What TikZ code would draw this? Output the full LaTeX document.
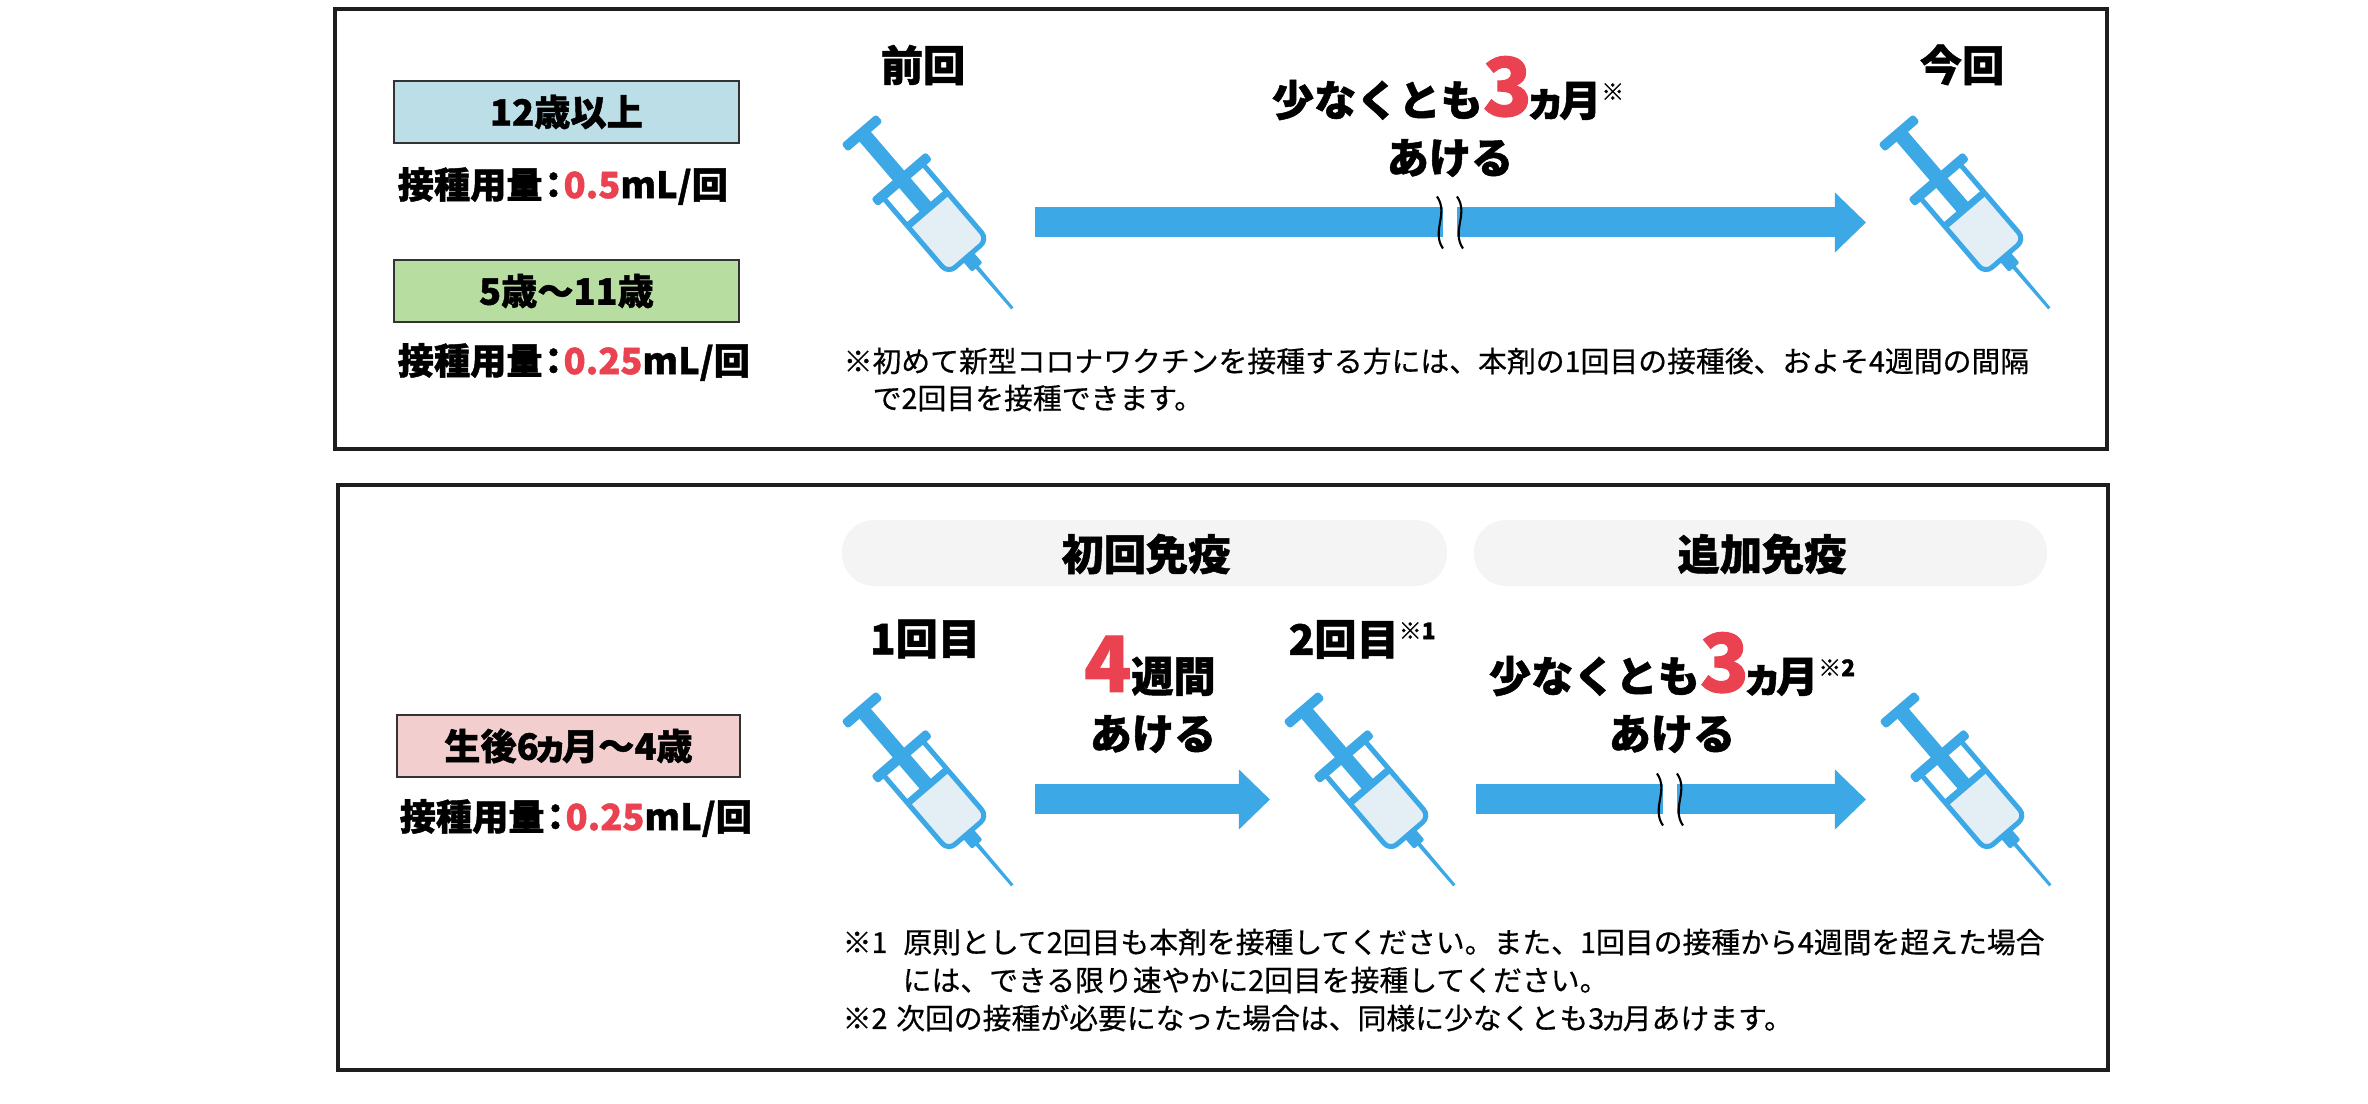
\documentclass[tikz,border=0pt]{standalone}
\usepackage{fontspec}
\newfontfamily\jp{Noto Sans CJK JP}[FakeBold=0.5, BoldFeatures={FakeBold=1.2}]
\usetikzlibrary{arrows.meta}
\definecolor{ablue}{RGB}{60,168,230}
\definecolor{liq}{RGB}{228,239,245}
\definecolor{rd}{RGB}{234,66,80}
\definecolor{lblue}{RGB}{188,222,230}
\definecolor{lgreen}{RGB}{184,221,161}
\definecolor{lpink}{RGB}{243,206,206}
\definecolor{pillc}{RGB}{244,244,244}
\definecolor{frame}{RGB}{30,30,30}
\newcommand\ka{\kern-0.18em ヵ\kern-0.18em}
\newcommand\cl{\kern-0.2em ：\kern-0.22em}
\tikzset{
 hd/.style={font=\jp\bfseries\fontsize{12}{14}\selectfont, inner sep=0pt},
 lab/.style={font=\jp\bfseries\fontsize{10.3}{12}\selectfont, inner sep=0pt},
 labbox/.style={lab, draw=black!80, line width=0.7pt, minimum width=3.45cm, minimum height=0.62cm},
 note/.style={font=\jp\fontsize{8.2}{10}\selectfont, inner sep=0pt, anchor=base west},
 frm/.style={draw=frame, line width=0.9pt},
 barrow/.style={draw=ablue, line width=0.3cm, -{Triangle[length=0.31cm,width=0.58cm]}},
 brk/.style={draw=black, line width=0.6pt},
 pill/.style={fill=pillc, rounded corners=0.32cm},
}
\newcommand\syr[2]{%
 \coordinate (#1) at #2;
 \begin{scope}[shift={(#1)},rotate=-49.4]
  \fill[liq] (102,-26) [rounded corners=0.09cm] -- (162.5,-26) -- (162.5,26) [sharp corners] -- (102,26) -- cycle;
  \draw[draw=ablue, line width=1.42pt] (63.5,-26) [rounded corners=0.09cm] -- (162.5,-26) -- (162.5,26) [sharp corners] -- (63.5,26);
  \fill[ablue] (0,-7.5) rectangle (100,7.5);
  \fill[ablue] (97,-26) rectangle (104,26);
  \fill[ablue, rounded corners=0.03cm] (-5,-23) rectangle (5,23);
  \fill[ablue, rounded corners=0.03cm] (56,-36) rectangle (66,36);
  \fill[ablue, rounded corners=0.02cm] (161,-7) rectangle (177,7);
  \fill[ablue] (175,-2) -- (231,-1.5) -- (231,1.5) -- (175,2) -- cycle;
 \end{scope}}
\newcommand\brkmark[3]{% x1 x2 yc
  \fill[white] ({#1+3},{#3-17}) rectangle ({#2-3},{#3+17});
  \draw[brk] ({#1-3},{#3-26}) .. controls ({#1+9},{#3-9}) and ({#1-9},{#3+9}) .. ({#1+3},{#3+26});
  \draw[brk] ({#2-3},{#3-26}) .. controls ({#2+9},{#3-9}) and ({#2-9},{#3+9}) .. ({#2+3},{#3+26});
}
\begin{document}
\begin{tikzpicture}[x=0.01cm,y=-0.01cm]
\useasboundingbox (0,0) rectangle (2368,1104);
% frames
\draw[frm] (335,9) rectangle (2107,449);
\draw[frm] (338,485) rectangle (2108,1070);

% ---------- top panel ----------
\node[labbox, fill=lblue] (age12) at (566.5,112) {12歳以上};
\node[lab, anchor=west] (dose12) at (397,186) {接種用量\cl{\color{rd}0.5}mL/回};
\node[labbox, fill=lgreen] (age5) at (566.5,291) {5歳～11歳};
\node[lab, anchor=west] (dose5) at (397,362) {接種用量\cl{\color{rd}0.25}mL/回};

\node[hd] (prev) at (923,65) {前回};
\node[hd] (curr) at (1962,65) {今回};
\syr{s1}{(862,133)}
\syr{s2}{(1899,133)}

\node[hd, anchor=base] (wait1) at (1448,116) {少なくとも{\color{rd}\fontsize{23}{23}\selectfont 3}\ka 月{\fontsize{6.5}{6.5}\selectfont\raisebox{4.5pt}{※}}};
\node[hd] (ake1) at (1450,158) {あける};
\coordinate (a1s) at (1035,222.5);
\coordinate (a1e) at (1866,222.5);
\draw[barrow] (a1s) -- (a1e);
\brkmark{1440}{1460}{222.5}

\node[note] (n1a) at (843,372) {※初めて新型コロナワクチンを接種する方には、本剤の1回目の接種後、およそ4週間の間隔};
\node[note] (n1b) at (872,409) {で2回目を接種できます。};

% ---------- bottom panel ----------
\fill[pill] (842,520) rectangle (1447,586);
\fill[pill] (1474,520) rectangle (2047,586);
\node[hd] (prim) at (1146,554) {初回免疫};
\node[hd] (boost) at (1762,554) {追加免疫};

\node[labbox, fill=lpink, minimum width=3.43cm] (age6m) at (568.5,746) {生後6\ka 月～4歳};
\node[lab, anchor=west] (dose6m) at (399,818) {接種用量\cl{\color{rd}0.25}mL/回};

\node[hd] (first) at (925,639) {1回目};
\node[hd, anchor=base west] (second) at (1288,655) {2回目{\fontsize{6.5}{6.5}\selectfont\raisebox{4.5pt}{※1}}};
\syr{s3}{(862,710)}
\syr{s4}{(1304,710)}
\syr{s5}{(1900,710)}

\node[hd, anchor=base] (wait4) at (1150,692) {{\color{rd}\fontsize{22}{22}\selectfont 4}週間};
\node[hd] (ake2) at (1153,734) {あける};
\node[hd, anchor=base] (wait3) at (1672,692) {少なくとも{\color{rd}\fontsize{23}{23}\selectfont 3}\ka 月{\fontsize{6.5}{6.5}\selectfont\raisebox{4.5pt}{※2}}};
\node[hd] (ake3) at (1672,734) {あける};

\coordinate (b1s) at (1035,799.5);
\coordinate (b1e) at (1270,799.5);
\draw[barrow] (b1s) -- (b1e);
\coordinate (b2s) at (1476,799.5);
\coordinate (b2e) at (1866,799.5);
\draw[barrow] (b2s) -- (b2e);
\brkmark{1660}{1680}{799.5}

\node[note] (n2a) at (842,953) {※1\hspace{0.55em}原則として2回目も本剤を接種してください。また、1回目の接種から4週間を超えた場合};
\node[note] (n2b) at (902,991) {には、できる限り速やかに2回目を接種してください。};
\node[note] (n2c) at (842,1029) {※2\hspace{0.3em}次回の接種が必要になった場合は、同様に少なくとも3\ka 月あけます。};
\end{tikzpicture}
\end{document}
